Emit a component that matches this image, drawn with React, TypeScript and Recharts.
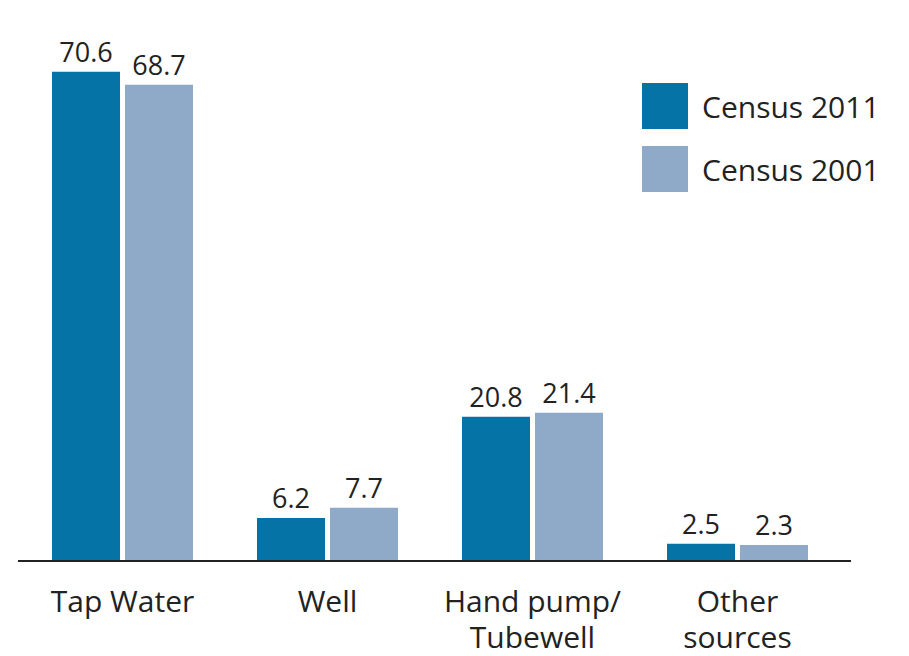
import React from "react";
import { BarChart, Bar, XAxis, YAxis, LabelList } from "recharts";

const categories = ["Tap Water", "Well", "Hand pump/\nTubewell", "Other\nsources"];
const census2011 = [70.6, 6.2, 20.8, 2.5];
const census2001 = [68.7, 7.7, 21.4, 2.3];
const seriesNames = ["Census 2011", "Census 2001"];
const colors = ["#0673A6", "#8EAAC8"];

const data = categories.map((c, i) => ({ name: c, c2011: census2011[i], c2001: census2001[i] }));

const FONT = "'Open Sans', 'Noto Sans', sans-serif";

const CategoryTick = (props: any) => {
  const { x, y, payload } = props;
  const lines = String(payload.value).split("\n");
  return (
    <g>
      {lines.map((l: string, i: number) => (
        <text
          key={i}
          x={x}
          y={y + 43 + i * 36}
          textAnchor="middle"
          fill="#222"
          fontFamily={FONT}
          fontSize={30}
        >
          {l}
        </text>
      ))}
    </g>
  );
};

export default function App() {
  return (
    <div style={{ position: "absolute", left: 0, top: 0, width: 909, height: 656, background: "#fff" }}>
      <BarChart
        width={909}
        height={656}
        data={data}
        margin={{ top: 10, right: 58, bottom: 5, left: 18 }}
        barCategoryGap={32}
        barGap={5}
      >
        <XAxis
          dataKey="name"
          axisLine={{ stroke: "#222", strokeWidth: 2 }}
          tickLine={false}
          tick={<CategoryTick />}
          height={90}
          interval={0}
          padding={{ left: 2, right: 11 }}
        />
        <YAxis
          width={0}
          domain={[0, 79.5]}
          tick={false}
          tickLine={false}
          axisLine={{ stroke: "#222", strokeWidth: 2 }}
        />
        <Bar dataKey="c2011" name={seriesNames[0]} fill={colors[0]} isAnimationActive={false}>
          <LabelList dataKey="c2011" position="top" offset={10} fill="#222" fontFamily={FONT} fontSize={27} />
        </Bar>
        <Bar dataKey="c2001" name={seriesNames[1]} fill={colors[1]} isAnimationActive={false}>
          <LabelList dataKey="c2001" position="top" offset={10} fill="#222" fontFamily={FONT} fontSize={27} />
        </Bar>
      </BarChart>
      <div style={{ position: "absolute", left: 642, top: 83, fontFamily: FONT, fontSize: 30, color: "#222" }}>
        {seriesNames.map((n, i) => (
          <div key={n} style={{ display: "flex", alignItems: "center", height: 46, marginBottom: 17 }}>
            <div style={{ width: 46, height: 46, background: colors[i], marginRight: 14 }} />
            <span style={{ whiteSpace: "nowrap" }}>{n}</span>
          </div>
        ))}
      </div>
    </div>
  );
}
